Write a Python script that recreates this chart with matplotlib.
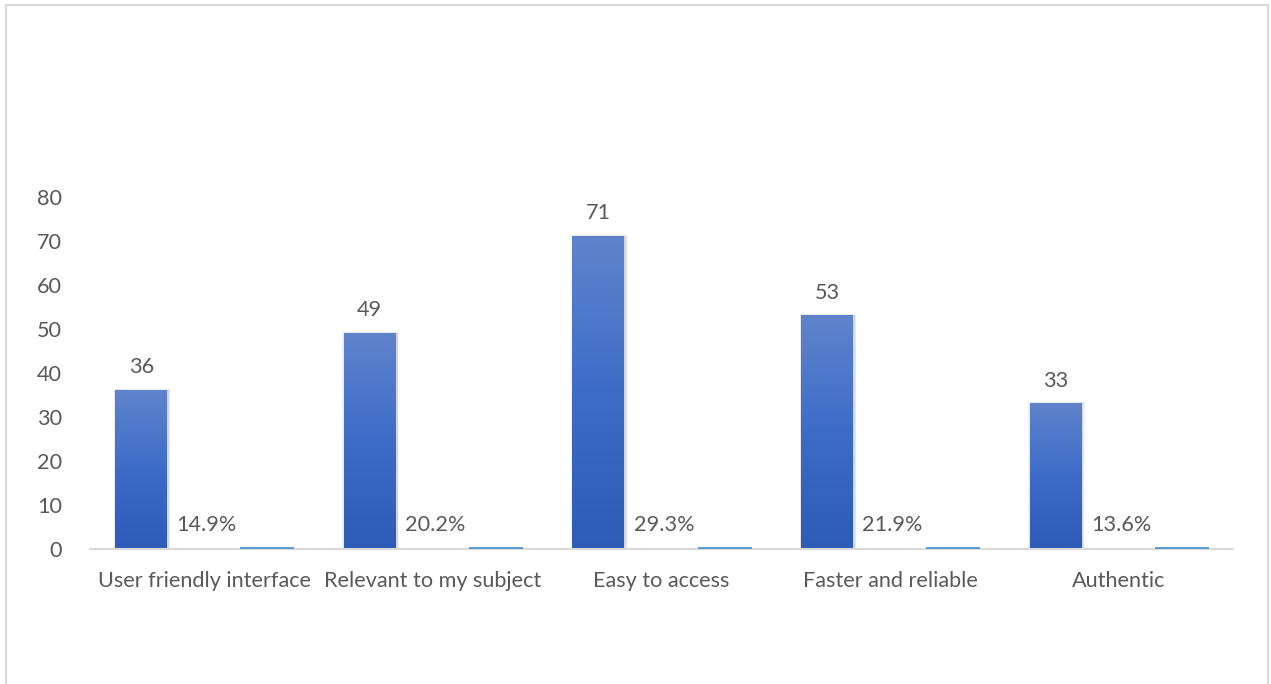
import numpy as np
import matplotlib
matplotlib.use("Agg")
import matplotlib.pyplot as plt
from matplotlib.patches import Rectangle
from matplotlib.colors import LinearSegmentedColormap

plt.rcParams['font.family'] = ['Lato', 'DejaVu Sans']

categories = ["User friendly interface", "Relevant to my subject", "Easy to access",
              "Faster and reliable", "Authentic"]
counts = [36, 49, 71, 53, 33]
shares = [0.149, 0.202, 0.293, 0.219, 0.136]
share_labels = ["14.9%", "20.2%", "29.3%", "21.9%", "13.6%"]
y_ticks = [0, 10, 20, 30, 40, 50, 60, 70, 80]

TEXT = "#595959"
FS = 15.6
W, H = 1271, 684
fig = plt.figure(figsize=(W / 100, H / 100), dpi=100)

# outer chart frame
fig.patches.append(Rectangle((6 / W, -0.05), (1268 - 6) / W, 1.05 - 5 / H,
                             transform=fig.transFigure, fill=False,
                             edgecolor="#D9D9D9", linewidth=1.5))

ax = fig.add_axes([90 / W, 1 - 549 / H, (1233 - 90) / W, (549 - 197) / H])
ax.set_xlim(-0.5, len(categories) - 0.5)
ax.set_ylim(0, 80)

x = np.arange(len(categories))
bw = 0.227
off = 0.276

grad = LinearSegmentedColormap.from_list("g", ["#2D5CB8", "#3D6CC8", "#5F84CC"])
gimg = np.linspace(0, 1, 256).reshape(-1, 1)

bars = ax.bar(x - off, counts, bw, color="none", zorder=3)
for b in bars:
    x0, w, h = b.get_x(), b.get_width(), b.get_height()
    # soft drop shadow behind each count bar
    for k, a in zip([0.035, 0.025, 0.015], [0.04, 0.05, 0.07]):
        ax.add_patch(Rectangle((x0 - k * 0.3 + 0.004, 0), w + 2 * k * 0.3, h + k * 12,
                               facecolor="#000000", alpha=a, linewidth=0, zorder=2))
    ax.imshow(gimg, extent=(x0, x0 + w, 0, h), origin="lower", cmap=grad,
              aspect="auto", zorder=3, interpolation="bilinear")
    ax.text(x0 + w / 2, h + 3.0, f"{int(h)}", ha="center", va="bottom",
            fontsize=FS, color=TEXT)

ax.bar(x + off, shares, bw, color="#5B9BD5", edgecolor="#5B9BD5",
       linewidth=1.4, zorder=5)
for xi, lab in zip(x, share_labels):
    ax.text(xi + 0.01, 5.5, lab, ha="center", va="center", fontsize=FS, color=TEXT)

ax.set_xlim(-0.5, len(categories) - 0.5)
ax.set_ylim(0, 80)
ax.set_yticks(y_ticks)
ax.set_xticks(x)
ax.set_xticklabels(categories)
ax.tick_params(axis="both", length=0, labelsize=FS, labelcolor=TEXT)
ax.tick_params(axis="y", pad=20)
ax.tick_params(axis="x", pad=16)
for s in ["left", "right", "top"]:
    ax.spines[s].set_visible(False)
ax.spines["bottom"].set_color("#D9D9D9")
ax.spines["bottom"].set_linewidth(1.5)
ax.spines["bottom"].set_zorder(4)

fig.savefig("out.png", dpi=100)
